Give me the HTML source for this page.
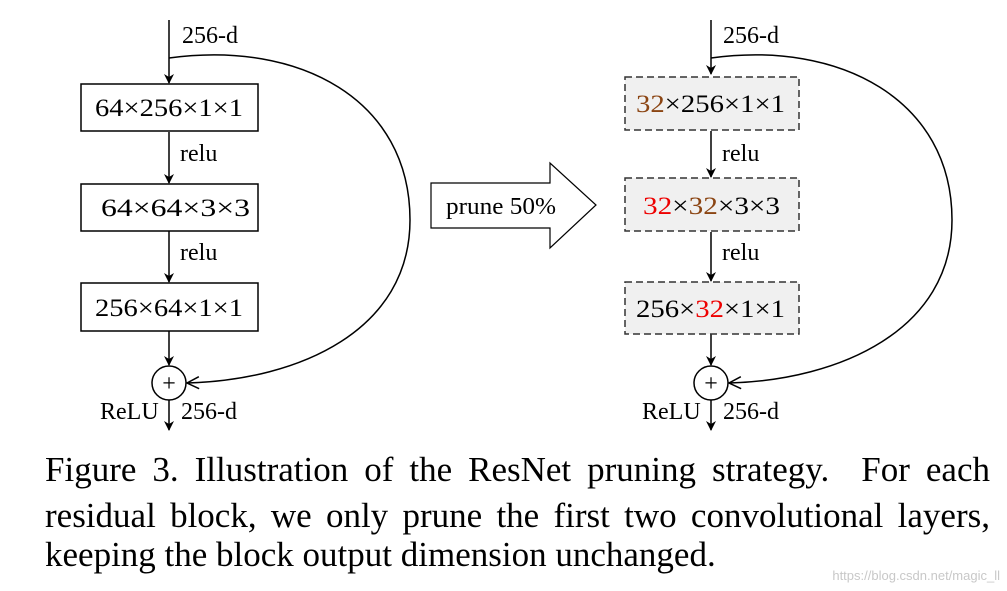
<!DOCTYPE html>
<html><head><style>
body{margin:0;background:#fff;width:1007px;height:591px;overflow:hidden;font-family:"Liberation Serif",serif;}
.cap{position:absolute;left:45px;width:945px;font-size:35px;color:#000;white-space:nowrap;text-align:justify;text-align-last:justify;line-height:40px;}
</style></head><body>
<svg width="1007" height="591" style="position:absolute;left:0;top:0" font-family="Liberation Serif, serif">
<defs><marker id="a" markerWidth="10" markerHeight="10" refX="9" refY="5" orient="auto" markerUnits="userSpaceOnUse"><path d="M0,0 L10,5 L0,10 L3,5 Z" fill="#000"/></marker>
<marker id="o" markerWidth="14" markerHeight="14" refX="13" refY="7" orient="auto" markerUnits="userSpaceOnUse"><path d="M1,1 L13,7 L1,13" fill="none" stroke="#000" stroke-width="1.5"/></marker></defs>
<g stroke="#000" stroke-width="1.5" fill="none">
<line x1="169" y1="20" x2="169" y2="83" marker-end="url(#a)"/>
<line x1="169" y1="132" x2="169" y2="183" marker-end="url(#a)"/>
<line x1="169" y1="231" x2="169" y2="282" marker-end="url(#a)"/>
<line x1="169" y1="331" x2="169" y2="365" marker-end="url(#a)"/>
<line x1="169" y1="400" x2="169" y2="430" marker-end="url(#a)"/>
<rect x="81" y="84" width="177" height="47" fill="#fff"/>
<rect x="81" y="184" width="177" height="47" fill="#fff"/>
<rect x="81" y="283" width="177" height="48" fill="#fff"/>
<circle cx="169" cy="383" r="17"/>
<path d="M169,58 C300,40 410,100 410,220 C410,330 300,380 187,383" marker-end="url(#o)"/>
<path d="M431,183 L550,183 L550,163 L596,205 L550,248 L550,228 L431,228 Z" stroke-width="1.2"/>
<line x1="711" y1="20" x2="711" y2="74" marker-end="url(#a)"/>
<line x1="711" y1="131" x2="711" y2="177" marker-end="url(#a)"/>
<line x1="711" y1="232" x2="711" y2="281" marker-end="url(#a)"/>
<line x1="711" y1="334" x2="711" y2="365" marker-end="url(#a)"/>
<line x1="711" y1="400" x2="711" y2="430" marker-end="url(#a)"/>
<g stroke="#333" stroke-dasharray="7,4" fill="#f0f0f0">
<rect x="625" y="77" width="174" height="53"/>
<rect x="625" y="178" width="174" height="53"/>
<rect x="625" y="282" width="174" height="52"/>
</g>
<circle cx="711" cy="383" r="17"/>
<path d="M711,58 C840,40 952,100 952,220 C952,330 840,380 729,383" marker-end="url(#o)"/>
</g>
<g font-size="24" fill="#000">
<text x="182" y="43">256-d</text>
<text x="95" y="116" font-size="25" textLength="148" lengthAdjust="spacingAndGlyphs">64×256×1×1</text>
<text x="180" y="161">relu</text>
<text x="101" y="216" font-size="25" textLength="149" lengthAdjust="spacingAndGlyphs">64×64×3×3</text>
<text x="180" y="260">relu</text>
<text x="95" y="316" font-size="25" textLength="148" lengthAdjust="spacingAndGlyphs">256×64×1×1</text>
<text x="169" y="391" text-anchor="middle">+</text>
<text x="100" y="419">ReLU</text>
<text x="181" y="419">256-d</text>
<text x="446" y="214" textLength="110" lengthAdjust="spacingAndGlyphs">prune 50%</text>
<text x="723" y="43">256-d</text>
<text x="636" y="112" font-size="25" textLength="149" lengthAdjust="spacingAndGlyphs"><tspan fill="#8b4513">32</tspan>×256×1×1</text>
<text x="722" y="161">relu</text>
<text x="643" y="214" font-size="25" textLength="137" lengthAdjust="spacingAndGlyphs"><tspan fill="#e00">32</tspan>×<tspan fill="#8b4513">32</tspan>×3×3</text>
<text x="722" y="260">relu</text>
<text x="636" y="317" font-size="25" textLength="149" lengthAdjust="spacingAndGlyphs">256×<tspan fill="#e00">32</tspan>×1×1</text>
<text x="711" y="391" text-anchor="middle">+</text>
<text x="642" y="419">ReLU</text>
<text x="723" y="419">256-d</text>
</g>
<text x="1000" y="580" font-family="Liberation Sans, sans-serif" font-size="13" fill="#c8c8c8" text-anchor="end">https://blog.csdn.net/magic_ll</text>
</svg>
<div class="cap" style="top:450px">Figure 3. Illustration of the ResNet pruning strategy.&nbsp; For each</div>
<div class="cap" style="top:496px">residual block, we only prune the first two convolutional layers,</div>
<div class="cap" style="top:535px;width:auto;text-align:left;text-align-last:auto;">keeping the block output dimension unchanged.</div>
</body></html>
